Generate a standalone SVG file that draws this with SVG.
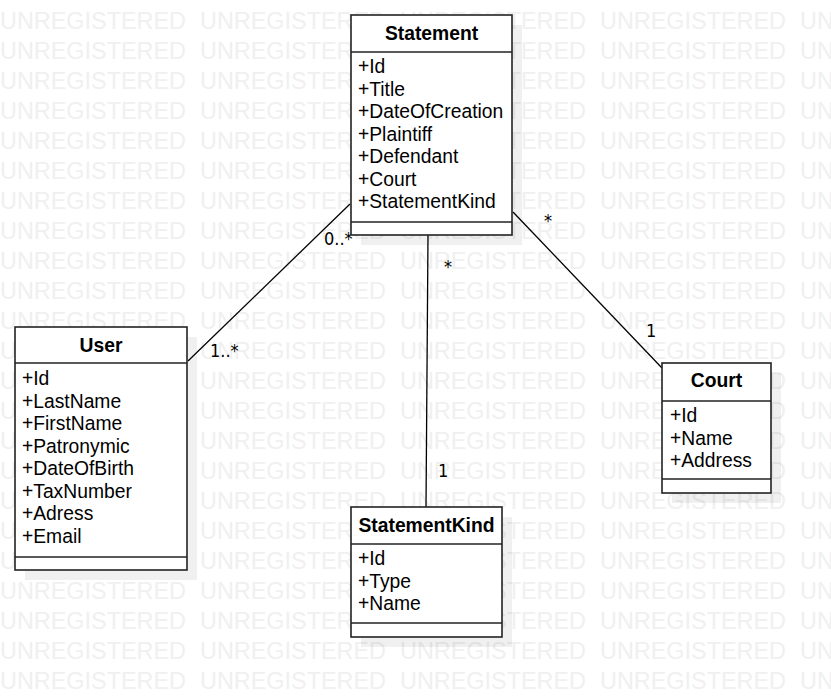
<svg xmlns="http://www.w3.org/2000/svg" xmlns:xlink="http://www.w3.org/1999/xlink" width="831" height="697" viewBox="0 0 831 697">
<style>
.wm{font-family:"Liberation Sans",Arial,sans-serif;font-size:23px;fill:#f0f0f0}
.box{fill:#ffffff;stroke:#222222;stroke-width:1.6}
.sh{fill:#000000;fill-opacity:0.06}
.sep{stroke:#222222;stroke-width:1.6}
.title{font-family:"Liberation Sans",Arial,sans-serif;font-size:19.3px;font-weight:bold;fill:#000000;text-anchor:middle}
.attr{font-family:"Liberation Sans",Arial,sans-serif;font-size:19.3px;fill:#000000}
.edge{stroke:#000000;stroke-width:1.3;fill:none}
.lbl{font-family:"DejaVu Sans Condensed","DejaVu Sans",sans-serif;font-stretch:condensed;font-size:18px;fill:#000000}
</style>
<defs>
<g id="wmrow">
<text class="wm" x="0" y="0" textLength="186" lengthAdjust="spacingAndGlyphs">UNREGISTERED</text>
<text class="wm" x="200" y="0" textLength="186" lengthAdjust="spacingAndGlyphs">UNREGISTERED</text>
<text class="wm" x="400" y="0" textLength="186" lengthAdjust="spacingAndGlyphs">UNREGISTERED</text>
<text class="wm" x="600" y="0" textLength="186" lengthAdjust="spacingAndGlyphs">UNREGISTERED</text>
<text class="wm" x="800" y="0" textLength="186" lengthAdjust="spacingAndGlyphs">UNREGISTERED</text>
</g>
</defs>
<rect x="0" y="0" width="831" height="697" fill="#ffffff"/>
<g id="watermark">
<use xlink:href="#wmrow" y="29"/><use xlink:href="#wmrow" y="59"/><use xlink:href="#wmrow" y="89"/>
<use xlink:href="#wmrow" y="119"/><use xlink:href="#wmrow" y="149"/><use xlink:href="#wmrow" y="179"/>
<use xlink:href="#wmrow" y="209"/><use xlink:href="#wmrow" y="239"/><use xlink:href="#wmrow" y="269"/>
<use xlink:href="#wmrow" y="299"/><use xlink:href="#wmrow" y="329"/><use xlink:href="#wmrow" y="359"/>
<use xlink:href="#wmrow" y="389"/><use xlink:href="#wmrow" y="419"/><use xlink:href="#wmrow" y="449"/>
<use xlink:href="#wmrow" y="479"/><use xlink:href="#wmrow" y="509"/><use xlink:href="#wmrow" y="539"/>
<use xlink:href="#wmrow" y="569"/><use xlink:href="#wmrow" y="599"/><use xlink:href="#wmrow" y="629"/>
<use xlink:href="#wmrow" y="659"/><use xlink:href="#wmrow" y="689"/>
</g>
<g id="connectors">
<line class="edge" x1="350" y1="204" x2="188" y2="361"/>
<line class="edge" x1="428" y1="235" x2="426" y2="507"/>
<line class="edge" x1="513" y1="212" x2="662" y2="368"/>
<text class="lbl" x="324" y="245">0..*</text>
<text class="lbl" x="210" y="357">1..*</text>
<text class="lbl" x="444" y="273">*</text>
<text class="lbl" x="438" y="477">1</text>
<text class="lbl" x="544" y="227">*</text>
<text class="lbl" x="646" y="337">1</text>
</g>
<g id="Statement">
<rect class="sh" x="361" y="25" width="161" height="220"/>
<rect class="box" x="351" y="15" width="161" height="220"/>
<line class="sep" x1="351" y1="52" x2="512" y2="52"/>
<line class="sep" x1="351" y1="222" x2="512" y2="222"/>
<text class="title" x="431.5" y="40">Statement</text>
<text class="attr" x="358" y="73">+Id</text>
<text class="attr" x="358" y="95.5">+Title</text>
<text class="attr" x="358" y="118">+DateOfCreation</text>
<text class="attr" x="358" y="140.5">+Plaintiff</text>
<text class="attr" x="358" y="163">+Defendant</text>
<text class="attr" x="358" y="185.5">+Court</text>
<text class="attr" x="358" y="208">+StatementKind</text>
</g>
<g id="User">
<rect class="sh" x="25" y="337" width="172" height="243"/>
<rect class="box" x="15" y="327" width="172" height="243"/>
<line class="sep" x1="15" y1="363" x2="187" y2="363"/>
<line class="sep" x1="15" y1="557" x2="187" y2="557"/>
<text class="title" x="101" y="352">User</text>
<text class="attr" x="22" y="385">+Id</text>
<text class="attr" x="22" y="407.5">+LastName</text>
<text class="attr" x="22" y="430">+FirstName</text>
<text class="attr" x="22" y="452.5">+Patronymic</text>
<text class="attr" x="22" y="475">+DateOfBirth</text>
<text class="attr" x="22" y="497.5">+TaxNumber</text>
<text class="attr" x="22" y="520">+Adress</text>
<text class="attr" x="22" y="542.5">+Email</text>
</g>
<g id="Court">
<rect class="sh" x="672" y="373" width="109" height="130"/>
<rect class="box" x="662" y="363" width="109" height="130"/>
<line class="sep" x1="662" y1="401" x2="771" y2="401"/>
<line class="sep" x1="662" y1="479" x2="771" y2="479"/>
<text class="title" x="716.5" y="387">Court</text>
<text class="attr" x="670" y="422">+Id</text>
<text class="attr" x="670" y="444.5">+Name</text>
<text class="attr" x="670" y="467">+Address</text>
</g>
<g id="StatementKind">
<rect class="sh" x="361" y="517" width="151" height="130"/>
<rect class="box" x="351" y="507" width="151" height="130"/>
<line class="sep" x1="351" y1="544" x2="502" y2="544"/>
<line class="sep" x1="351" y1="623" x2="502" y2="623"/>
<text class="title" x="426.5" y="532">StatementKind</text>
<text class="attr" x="358" y="565">+Id</text>
<text class="attr" x="358" y="587.5">+Type</text>
<text class="attr" x="358" y="610">+Name</text>
</g>
</svg>
